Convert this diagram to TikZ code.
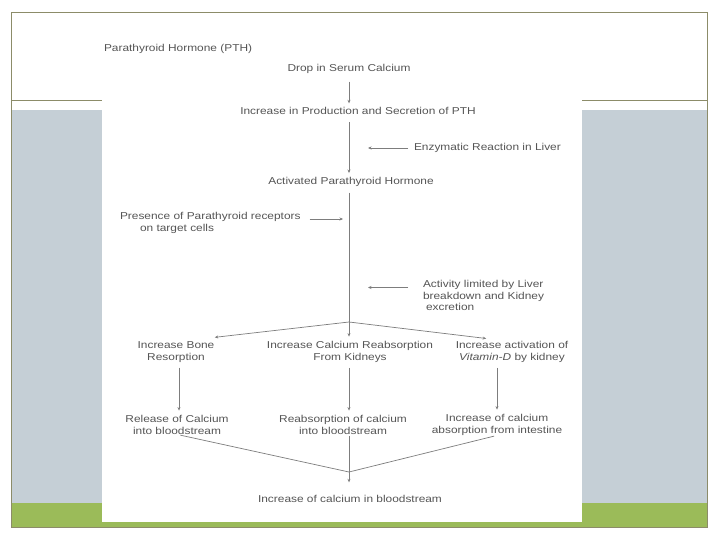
\documentclass[tikz,border=0pt]{standalone}
\usepackage{fontspec}
\setmainfont{Liberation Sans}[FakeStretch=1.19]
\usetikzlibrary{arrows.meta}
\definecolor{framecol}{RGB}{140,140,105}
\definecolor{bandgray}{RGB}{197,207,214}
\definecolor{bandgreen}{RGB}{155,187,89}
\definecolor{txtcol}{RGB}{85,85,85}
\definecolor{lncol}{RGB}{125,125,125}
\begin{document}
\begin{tikzpicture}[x=1pt,y=-1pt,
  txt/.style={font=\fontsize{10}{11.5}\selectfont, text=txtcol, inner sep=0pt, outer sep=0pt, align=center},
  ln/.style={draw=lncol, line width=0.7pt},
  arr/.style={ln, -{Stealth[length=3.5pt,width=3pt]}}]
\useasboundingbox (0,0) rectangle (720,540);
\fill[white] (0,0) rectangle (720,540);
% slide background
\fill[bandgray] (11,110) rectangle (707,503);
\fill[bandgreen] (11,503) rectangle (707,527);
\draw[framecol, line width=0.8pt] (11,12) rectangle (707,527);
\draw[framecol, line width=0.8pt] (11,100) -- (707,100);
% picture
\fill[white] (102,38) rectangle (582,522);

\node[txt, anchor=west] (title) at (104,49) {Parathyroid Hormone (PTH)};
\node[txt] (drop) at (349,69) {Drop in Serum Calcium};
\node[txt] (prod) at (358,111) {Increase in Production and Secretion of PTH};
\node[txt, anchor=west] (enz) at (414,148) {Enzymatic Reaction in Liver};
\node[txt] (act) at (351,182) {Activated Parathyroid Hormone};
\node[txt, align=left, anchor=west] (pres) at (120,223) {Presence of Parathyroid receptors\\\hspace*{20pt}on target cells};
\node[txt, align=left, anchor=west] (lim) at (423,295.5) {Activity limited by Liver\\breakdown and Kidney\\\hspace*{3pt}excretion};
\coordinate (apex) at (349,322);
\node[txt] (bone) at (176,352) {Increase Bone\\Resorption};
\node[txt] (kid) at (350,352) {Increase Calcium Reabsorption\\From Kidneys};
\node[txt] (vit) at (512,352) {Increase activation of\\\textit{Vitamin-D} by kidney};
\node[txt] (rel) at (177,425) {Release of Calcium\\into bloodstream};
\node[txt] (rea) at (343,425) {Reabsorption of calcium\\into bloodstream};
\node[txt] (abs) at (497,425) {Increase of calcium\\absorption from intestine};
\node[txt] (fin) at (350,499) {Increase of calcium in bloodstream};
\coordinate (meet) at (349,472);

% connectors
\draw[arr, shorten <=8pt, shorten >=4pt] (drop.south) -- (drop.south |- prod.north);
\draw[arr, shorten <=7.5pt, shorten >=4.3pt] (prod.south -| apex) -- (act.north -| apex);
\draw[ln, line width=0.9pt, shorten <=6pt] (act.south -| apex) -- (apex);
\draw[arr, shorten <=6pt, shorten >=19pt] (enz.west) -- (enz.west -| apex);
\draw[arr, shorten <=9pt, shorten >=6pt] ([yshift=4pt]pres.east) -- ([yshift=4pt]pres.east -| apex);
\draw[arr, shorten <=15pt, shorten >=19pt] ([yshift=8pt]lim.west) -- ([yshift=8pt]lim.west -| apex);
\draw[arr, shorten >=39pt] (apex) -- (bone.north);
\draw[arr, shorten >=5pt] (apex) -- (kid.north -| apex);
\draw[arr, shorten >=26pt] (apex) -- (vit.north);
\draw[arr, shorten <=5.5pt, shorten >=5pt] ([xshift=3pt]bone.south) -- ([xshift=3pt]bone.south |- rel.north);
\draw[arr, shorten <=5.5pt, shorten >=5pt] (kid.south -| apex) -- (rea.north -| apex);
\draw[arr, shorten <=5.5pt, shorten >=5pt] (abs.north |- vit.south) -- (abs.north);
\draw[ln, shorten <=3.5pt] (rel.south) -- (meet);
\draw[ln, shorten <=3pt] (abs.south) -- (meet);
\draw[arr, shorten <=1.5pt, shorten >=13pt] (rea.south -| apex) -- (fin.north -| apex);
\end{tikzpicture}
\end{document}
